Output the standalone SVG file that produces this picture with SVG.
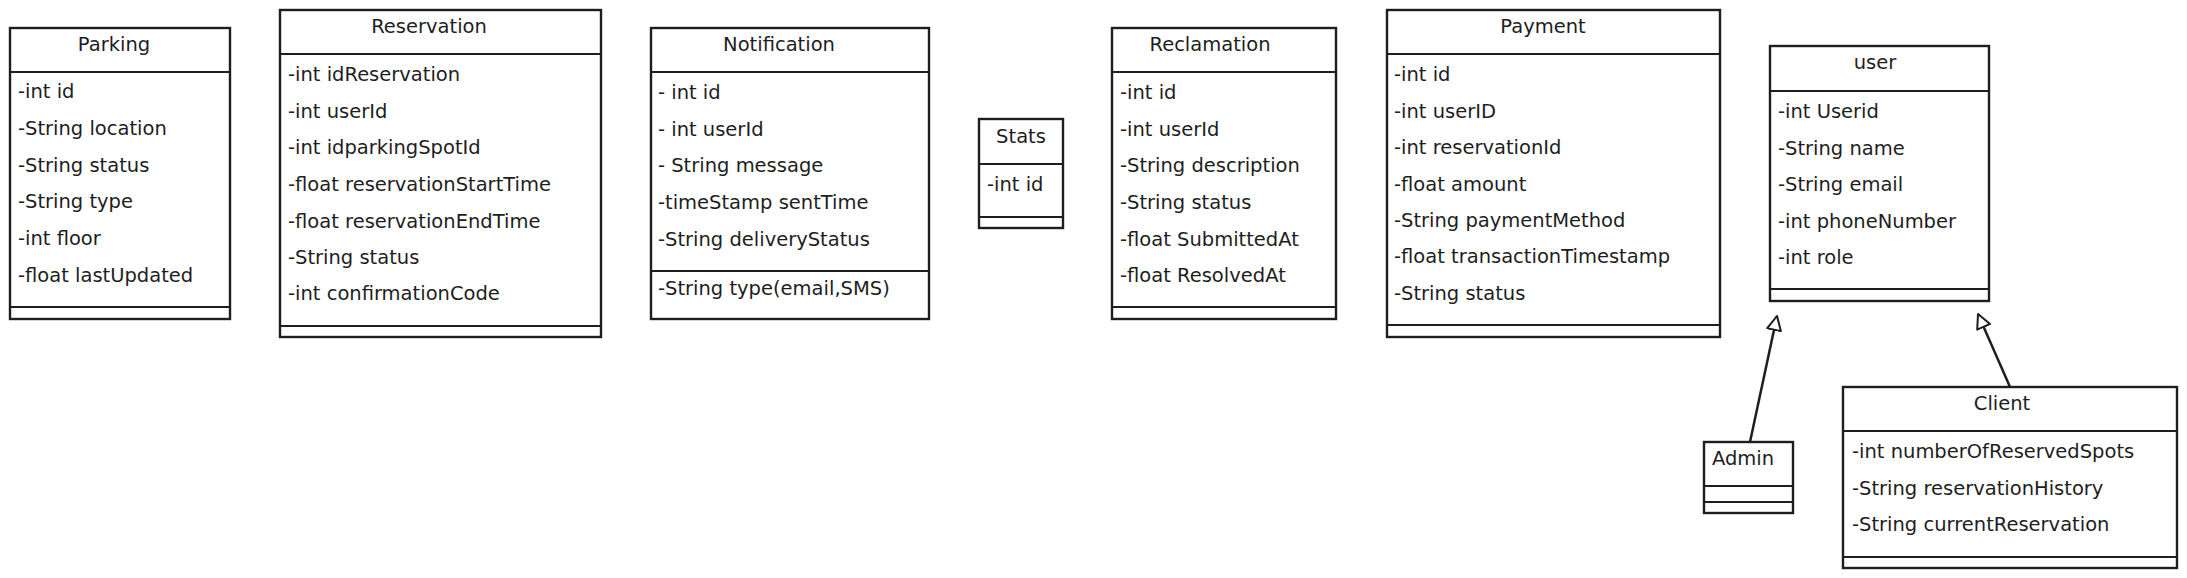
<svg xmlns="http://www.w3.org/2000/svg" width="2187" height="578" viewBox="0 0 2187 578">
<style>
.box{fill:#fff;stroke:#1e1e1e;stroke-width:2.4}
.ln{stroke:#1e1e1e;stroke-width:2;fill:none}
text{font-family:"DejaVu Sans","Liberation Sans",sans-serif;font-size:19.5px;fill:#1e1e1e}
.t{text-anchor:middle}
.conn{stroke:#1e1e1e;stroke-width:2.5;fill:none}
</style>
<defs>
<marker id="inh" markerWidth="20" markerHeight="20" refX="15" refY="8" orient="auto" markerUnits="userSpaceOnUse">
<path d="M1,1 L15,8 L1,15 Z" fill="#fff" stroke="#1e1e1e" stroke-width="2" stroke-linejoin="round"/>
</marker>
</defs>
<rect width="2187" height="578" fill="#fff"/>

<g id="Parking">
<rect class="box" x="10" y="28" width="220" height="291"/>
<line class="ln" x1="10" y1="72" x2="230" y2="72"/>
<line class="ln" x1="10" y1="307" x2="230" y2="307"/>
<text class="t" x="114" y="51">Parking</text>
<text x="18" y="98">-int id</text>
<text x="18" y="135">-String location</text>
<text x="18" y="172">-String status</text>
<text x="18" y="208">-String type</text>
<text x="18" y="245">-int floor</text>
<text x="18" y="282">-float lastUpdated</text>
</g>

<g id="Reservation">
<rect class="box" x="280" y="10" width="321" height="327"/>
<line class="ln" x1="280" y1="54" x2="601" y2="54"/>
<line class="ln" x1="280" y1="326" x2="601" y2="326"/>
<text class="t" x="429" y="33">Reservation</text>
<text x="288" y="81">-int idReservation</text>
<text x="288" y="118">-int userId</text>
<text x="288" y="154">-int idparkingSpotId</text>
<text x="288" y="191">-float reservationStartTime</text>
<text x="288" y="228">-float reservationEndTime</text>
<text x="288" y="264">-String status</text>
<text x="288" y="300">-int confirmationCode</text>
</g>

<g id="Notification">
<rect class="box" x="651" y="28" width="278" height="291"/>
<line class="ln" x1="651" y1="72" x2="929" y2="72"/>
<line class="ln" x1="651" y1="271" x2="929" y2="271"/>
<text class="t" x="779" y="51">Notification</text>
<text x="658" y="99">- int id</text>
<text x="658" y="136">- int userId</text>
<text x="658" y="172">- String message</text>
<text x="658" y="209">-timeStamp sentTime</text>
<text x="658" y="246">-String deliveryStatus</text>
<text x="658" y="295">-String type(email,SMS)</text>
</g>

<g id="Stats">
<rect class="box" x="979" y="119" width="84" height="109"/>
<line class="ln" x1="979" y1="164" x2="1063" y2="164"/>
<line class="ln" x1="979" y1="217" x2="1063" y2="217"/>
<text class="t" x="1021" y="143">Stats</text>
<text x="987" y="191">-int id</text>
</g>

<g id="Reclamation">
<rect class="box" x="1112" y="28" width="224" height="291"/>
<line class="ln" x1="1112" y1="72" x2="1336" y2="72"/>
<line class="ln" x1="1112" y1="307" x2="1336" y2="307"/>
<text class="t" x="1210" y="51">Reclamation</text>
<text x="1120" y="99">-int id</text>
<text x="1120" y="136">-int userId</text>
<text x="1120" y="172">-String description</text>
<text x="1120" y="209">-String status</text>
<text x="1120" y="246">-float SubmittedAt</text>
<text x="1120" y="282">-float ResolvedAt</text>
</g>

<g id="Payment">
<rect class="box" x="1387" y="10" width="333" height="327"/>
<line class="ln" x1="1387" y1="54" x2="1720" y2="54"/>
<line class="ln" x1="1387" y1="325" x2="1720" y2="325"/>
<text class="t" x="1543" y="33">Payment</text>
<text x="1394" y="81">-int id</text>
<text x="1394" y="118">-int userID</text>
<text x="1394" y="154">-int reservationId</text>
<text x="1394" y="191">-float amount</text>
<text x="1394" y="227">-String paymentMethod</text>
<text x="1394" y="263">-float transactionTimestamp</text>
<text x="1394" y="300">-String status</text>
</g>

<g id="user">
<rect class="box" x="1770" y="46" width="219" height="255"/>
<line class="ln" x1="1770" y1="91" x2="1989" y2="91"/>
<line class="ln" x1="1770" y1="289" x2="1989" y2="289"/>
<text class="t" x="1875" y="69">user</text>
<text x="1778" y="118">-int Userid</text>
<text x="1778" y="155">-String name</text>
<text x="1778" y="191">-String email</text>
<text x="1778" y="228">-int phoneNumber</text>
<text x="1778" y="264">-int role</text>
</g>

<g id="Admin">
<rect class="box" x="1704" y="442" width="89" height="71"/>
<line class="ln" x1="1704" y1="486" x2="1793" y2="486"/>
<line class="ln" x1="1704" y1="502" x2="1793" y2="502"/>
<text x="1712" y="465">Admin</text>
</g>

<g id="Client">
<rect class="box" x="1843" y="387" width="334" height="181"/>
<line class="ln" x1="1843" y1="431" x2="2177" y2="431"/>
<line class="ln" x1="1843" y1="557" x2="2177" y2="557"/>
<text class="t" x="2002" y="410">Client</text>
<text x="1852" y="458">-int numberOfReservedSpots</text>
<text x="1852" y="495">-String reservationHistory</text>
<text x="1852" y="531">-String currentReservation</text>
</g>

<g id="connectors">
<line class="conn" x1="1750" y1="442" x2="1777" y2="316" marker-end="url(#inh)"/>
<line class="conn" x1="2010" y1="387" x2="1978" y2="314" marker-end="url(#inh)"/>
</g>
</svg>
